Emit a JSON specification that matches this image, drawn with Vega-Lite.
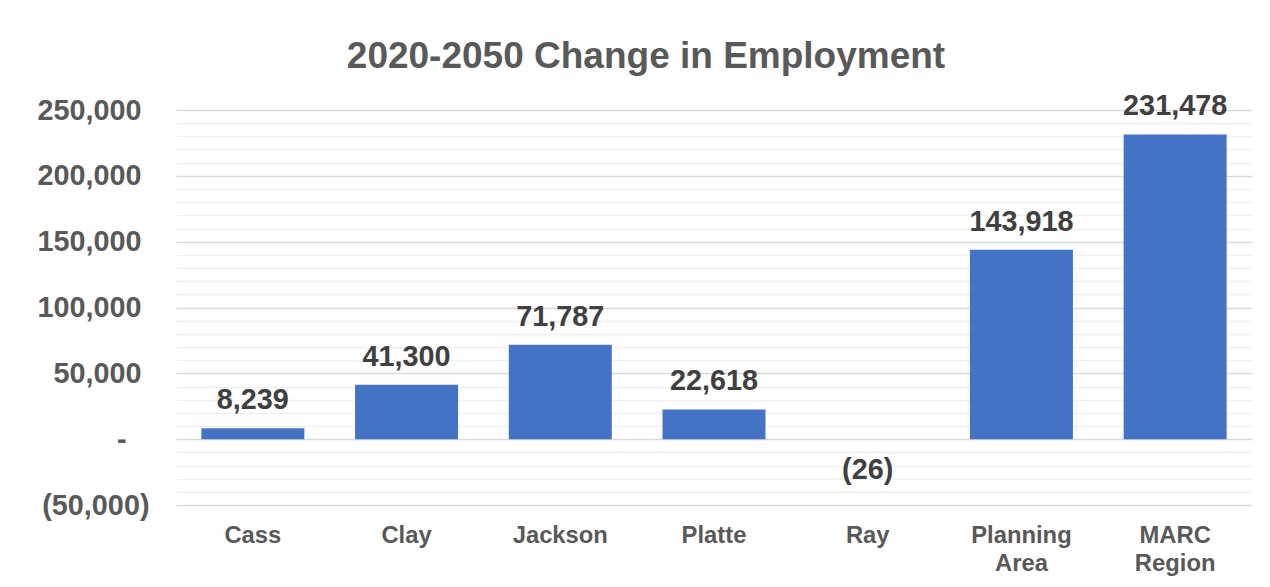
{
  "$schema": "https://vega.github.io/schema/vega-lite/v6.json",
  "width": 1076,
  "height": 395,
  "autosize": {"type": "none"},
  "padding": {"left": 176, "top": 110, "right": 18, "bottom": 82},
  "background": "white",
  "config": {"view": {"stroke": null}, "font": "Liberation Sans"},
  "title": {
    "text": "2020-2050 Change in Employment",
    "fontSize": 37,
    "fontWeight": "bold",
    "color": "#595959",
    "font": "Liberation Sans",
    "anchor": "middle",
    "dx": -68,
    "offset": 16
  },
  "data": {
    "values": [
      {"area": "Cass", "value": 8239},
      {"area": "Clay", "value": 41300},
      {"area": "Jackson", "value": 71787},
      {"area": "Platte", "value": 22618},
      {"area": "Ray", "value": -26},
      {"area": "Planning Area", "value": 143918},
      {"area": "MARC Region", "value": 231478}
    ]
  },
  "encoding": {
    "x": {
      "field": "area",
      "type": "nominal",
      "sort": null,
      "scale": {"paddingInner": 0.33, "paddingOuter": 0.165},
      "axis": {
        "title": null,
        "labelAngle": 0,
        "domain": false,
        "ticks": false,
        "grid": false,
        "labelPadding": 18,
        "labelFontSize": 23.8,
        "labelFontWeight": "bold",
        "labelColor": "#595959",
        "labelExpr": "split(datum.label, ' ')",
        "labelLineHeight": 28
      }
    }
  },
  "layer": [
    {
      "mark": {"type": "bar", "color": "#4472C4"},
      "encoding": {
        "y": {
          "field": "value",
          "type": "quantitative",
          "scale": {"domain": [-50000, 250000], "nice": false, "zero": true},
          "axis": {
            "orient": "left",
            "title": null,
            "values": [-50000, 0, 50000, 100000, 150000, 200000, 250000],
            "domain": false,
            "ticks": false,
            "grid": true,
            "labelPadding": {
              "condition": [
                {"test": "datum.value == 0", "value": 50},
                {"test": "datum.value < 0", "value": 27}
              ],
              "value": 35
            },
            "labelFontSize": 28.8,
            "labelFontWeight": "bold",
            "labelColor": "#595959",
            "gridColor": "#d9d9d9",
            "gridWidth": 1.5,
            "labelExpr": "datum.value == 0 ? '-' : datum.value < 0 ? '(' + format(-datum.value, ',') + ')' : format(datum.value, ',')"
          }
        }
      }
    },
    {
      "transform": [
        {"filter": "datum.value >= 0"},
        {"calculate": "format(datum.value, ',')", "as": "label"}
      ],
      "mark": {"type": "text", "baseline": "alphabetic", "dy": -19, "fontSize": 28.8, "fontWeight": "bold", "color": "#404040"},
      "encoding": {
        "y": {
          "field": "value",
          "type": "quantitative",
          "axis": {
            "orient": "left",
            "title": null,
            "values": [-40000, -30000, -20000, -10000, 10000, 20000, 30000, 40000, 60000, 70000, 80000, 90000, 110000, 120000, 130000, 140000, 160000, 170000, 180000, 190000, 210000, 220000, 230000, 240000],
            "labels": false,
            "domain": false,
            "ticks": false,
            "grid": true,
            "gridColor": "#f0f0f0",
            "gridWidth": 1.5
          }
        },
        "text": {"field": "label", "type": "nominal"}
      }
    },
    {
      "transform": [
        {"filter": "datum.value < 0"},
        {"calculate": "'(' + format(-datum.value, ',') + ')'", "as": "label"}
      ],
      "mark": {"type": "text", "baseline": "alphabetic", "dy": 40, "fontSize": 28.8, "fontWeight": "bold", "color": "#404040"},
      "encoding": {
        "y": {"field": "value", "type": "quantitative", "axis": null},
        "text": {"field": "label", "type": "nominal"}
      }
    }
  ],
  "resolve": {"axis": {"y": "independent"}}
}
